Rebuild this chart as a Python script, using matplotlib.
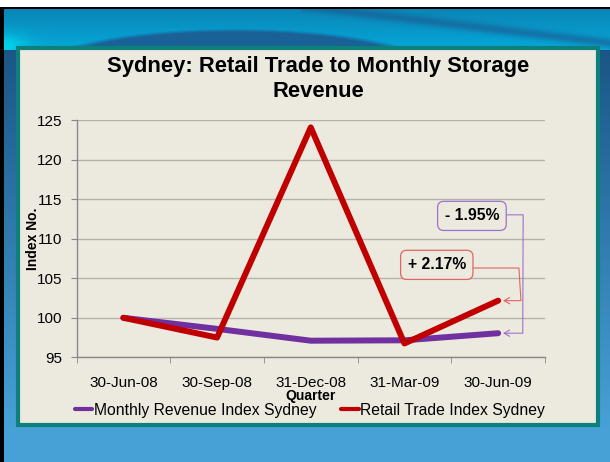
import numpy as np
import matplotlib
matplotlib.use("Agg")
import matplotlib.pyplot as plt
from matplotlib.patches import Rectangle
from matplotlib.ticker import FixedLocator, NullFormatter

plt.rcParams["font.family"] = ["Liberation Sans", "DejaVu Sans"]

# ── Data ──────────────────────────────────────────────────────────────────────
quarters = ["30-Jun-08", "30-Sep-08", "31-Dec-08", "31-Mar-09", "30-Jun-09"]
revenue_index = [100.0, 98.6, 97.1, 97.15, 98.05]   # Monthly Revenue Index Sydney
retail_index = [100.0, 97.5, 124.1, 96.75, 102.17]  # Retail Trade Index Sydney
revenue_change = "- 1.95%"
retail_change = "+ 2.17%"

PURPLE = "#7030a0"
RED = "#c00000"
CREAM = "#eceadf"
TEAL = "#0d807b"

W, H = 610, 462
fig = plt.figure(figsize=(W / 100, H / 100), dpi=100)


def hexrgb(h):
    return np.array([int(h[i:i + 2], 16) for i in (1, 3, 5)]) / 255


# ── Slide background (decorative gradient) ────────────────────────────────────
bg = fig.add_axes([0, 0, 1, 1], zorder=0)
yy, xx = np.mgrid[0:H, 0:W].astype(float)

# lower part: dark blue at top fading to light blue
t = np.clip((yy - 46) / 380, 0, 1)[..., None]
img = hexrgb("#1a5585") * (1 - t) + hexrgb("#47a1d7") * t

# top band: cyan with a dark dome and a dark band at the right
band = (yy < 50)[..., None]
tb = np.clip((yy - 9) / 37, 0, 1)[..., None]
cyan = hexrgb("#0a86b6") * (1 - tb) + hexrgb("#05a6d8") * tb
dome = ((xx - 235) / 200) ** 2 + ((yy - 68) / 40) ** 2
dome_w = np.clip((1.0 - dome) * 6, 0, 1)[..., None]
cyan = cyan * (1 - dome_w) + hexrgb("#1a6198") * dome_w
rband = np.exp(-((yy - (9 + (xx - 330) * 0.12)) / 5) ** 2) * (xx > 300)
cyan = cyan * (1 - 0.6 * rband[..., None]) + hexrgb("#1b5a90") * 0.6 * rband[..., None]
corner = np.exp(-((xx / 25) ** 2 + ((yy - 46) / 12) ** 2))[..., None]
cyan = cyan * (1 - corner) + hexrgb("#00d6ea") * corner
img = np.where(band, cyan, img)

img[:, :4] = 0.0
img[7:9, :] = 0.0
img[:7, :] = 1.0
bg.imshow(img, extent=(0, W, H, 0), aspect="auto", interpolation="bilinear")
bg.set_xlim(0, W)
bg.set_ylim(H, 0)
bg.axis("off")

# chart panel
fig.add_artist(Rectangle((18 / W, 1 - 425 / H), 580 / W, 377 / H,
                         transform=fig.transFigure, facecolor=CREAM,
                         edgecolor=TEAL, linewidth=3, zorder=1))

# ── Chart ─────────────────────────────────────────────────────────────────────
ax = fig.add_axes([76.5 / W, 1 - 357.3 / H, 468.5 / W, 237 / H], zorder=2)
ax.patch.set_alpha(0)
x = np.arange(len(quarters))

l1, = ax.plot(x, revenue_index, color=PURPLE, linewidth=4.3,
              solid_capstyle="round", zorder=3)
l2, = ax.plot(x, retail_index, color=RED, linewidth=4.3,
              solid_capstyle="round", zorder=4)

ax.set_xlim(-0.5, len(quarters) - 0.5)
ax.set_ylim(95, 125)
ax.set_yticks(np.arange(95, 126, 5))
ax.set_xticks(x)
ax.set_xticklabels(quarters)
ax.xaxis.set_minor_locator(FixedLocator(np.arange(-0.5, len(quarters), 1)))
ax.xaxis.set_minor_formatter(NullFormatter())
ax.tick_params(axis="x", which="major", length=0, pad=13.5, labelsize=11)
ax.tick_params(axis="x", which="minor", length=4, color="#888888", direction="out")
ax.tick_params(axis="y", length=4, color="#888888", pad=6, labelsize=11)
ax.yaxis.grid(True, color="#b5b3ab", linewidth=1)
ax.set_axisbelow(True)
for s in ["top", "right"]:
    ax.spines[s].set_visible(False)
for s in ["left", "bottom"]:
    ax.spines[s].set_color("#888888")
    ax.spines[s].set_linewidth(1)

ax.set_ylabel("Index No.", fontsize=10, fontweight="bold")
ax.yaxis.set_label_coords(-0.093, 0.5)
ax.yaxis.label.set_va("center")
ax.set_xlabel("Quarter", fontsize=10, fontweight="bold")
ax.xaxis.set_label_coords(0.5, -0.163)
ax.xaxis.label.set_va("center")

# change call-outs
last = len(quarters) - 1
ax.annotate(revenue_change, xy=(last, revenue_index[-1]), xytext=(3.72, 112.9),
            fontsize=11.3, fontweight="bold", ha="center", va="center",
            bbox=dict(boxstyle="round,pad=0.45,rounding_size=0.4",
                      fc=CREAM, ec="#9c72cc", lw=0.9),
            arrowprops=dict(arrowstyle="->,head_length=0.35,head_width=0.2",
                            color="#9c72cc", lw=0.8, relpos=(1.0, 0.57),
                            shrinkA=0, shrinkB=3.5,
                            connectionstyle="arc,angleA=0,angleB=0,armA=24,armB=24.6,rad=0"),
            zorder=6)
ax.annotate(retail_change, xy=(last, retail_index[-1]), xytext=(3.345, 106.7),
            fontsize=11.3, fontweight="bold", ha="center", va="center",
            bbox=dict(boxstyle="round,pad=0.45,rounding_size=0.4",
                      fc=CREAM, ec="#e06464", lw=0.9),
            arrowprops=dict(arrowstyle="->,head_length=0.35,head_width=0.2",
                            color="#e06464", lw=0.8, relpos=(1.0, 0.29),
                            shrinkA=0, shrinkB=3.5,
                            connectionstyle="arc,angleA=0,angleB=0,armA=53,armB=22.8,rad=0"),
            zorder=6)

fig.legend([l1, l2], ["Monthly Revenue Index Sydney", "Retail Trade Index Sydney"],
           loc="center", bbox_to_anchor=(310 / W, 1 - 410 / H), ncol=2,
           frameon=False, fontsize=11.3, handlelength=1.1, handletextpad=0.1,
           columnspacing=1.6, borderaxespad=0)
for h in fig.legends[0].legend_handles:
    h.set_linewidth(3)

fig.text(318 / W, 1 - 79 / H, "Sydney: Retail Trade to Monthly Storage\nRevenue",
         ha="center", va="center", fontsize=15.8, fontweight="bold",
         linespacing=1.2, zorder=3)

fig.savefig("out.png", dpi=100)
